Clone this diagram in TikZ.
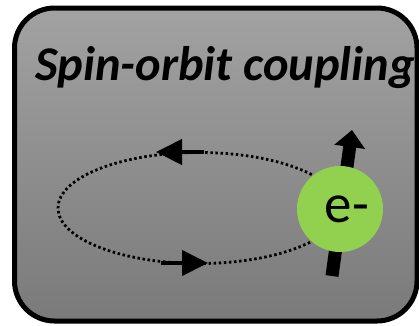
\documentclass[tikz,border=0pt]{standalone}
\usepackage{fontspec}
\setmainfont{Carlito}
\usetikzlibrary{arrows.meta,shapes.geometric}
\definecolor{boxtop}{RGB}{162,162,162}
\definecolor{boxbot}{RGB}{122,122,122}
\definecolor{elgreen}{RGB}{146,208,80}
\begin{document}
\begin{tikzpicture}[x=1pt, y=-1pt,
    orbitarrow/.style={line width=4pt, -{Triangle[length=26pt, width=25pt]}},
    spinarrow/.style={line width=13pt, -{Triangle[length=17pt, width=30pt]}}]
      \useasboundingbox (0,0) rectangle (419,325);
      \draw[line width=5pt, rounded corners=40pt, top color=boxtop, bottom color=boxbot]
        (14.5,8) rectangle (417,321);
      \node[font=\fontsize{48.5}{52}\selectfont\bfseries\itshape, anchor=base] (title) at (225,80){Spin-orbit coupling};
      % orbit of the electron
      \node[ellipse, draw, line width=2.8pt, dash pattern=on 2.5pt off 2.6pt,
        minimum width=282pt, minimum height=111pt, inner sep=0pt] (orbit) at (199,208){};
      \coordinate (ta) at (204,152);
      \coordinate (tb) at (156,152);
      \coordinate (ba) at (161,263);
      \coordinate (bb) at (208,263);
      \draw[orbitarrow] (ta) -- (tb);
      \draw[orbitarrow] (ba) -- (bb);
      % spin
      \coordinate (s0) at (332,276);
      \coordinate (s1) at (352,130);
      \draw[spinarrow] (s0) -- (s1);
      \node[circle, fill=elgreen, minimum size=86pt, inner sep=0pt] (elec) at (340,209){};
      \node[font=\fontsize{55}{60}\selectfont, anchor=base] (elabel) at (347,222){e-};
    \end{tikzpicture}
\end{document}
